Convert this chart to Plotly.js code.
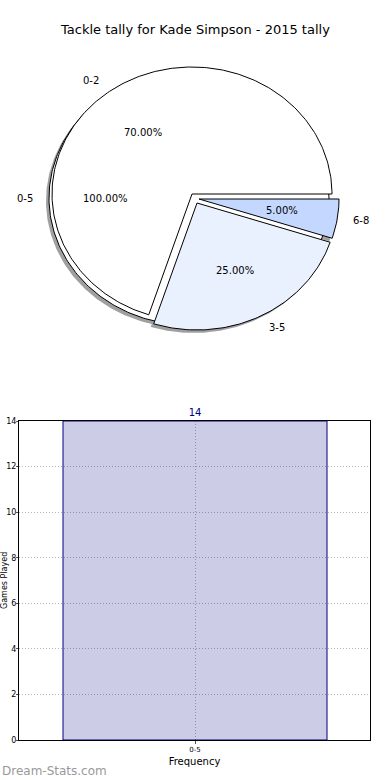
<!DOCTYPE html>
<html>
<head>
<meta charset="utf-8">
<script src="https://cdn.plot.ly/plotly-3.0.1.min.js"></script>
<style>html,body{margin:0;padding:0;background:#fff;}#chart{width:390px;height:780px;}</style>
</head>
<body>
<div id="chart"></div>
<script>
// ---- data ----
const chartTitle = 'Tackle tally for Kade Simpson - 2015 tally';
const innerLabels = ['0-2', '3-5', '6-8'];
const innerValues = [70, 25, 5];
const outerLabels = ['0-5'];
const outerValues = [100];
const barCategories = ['0-5'];
const barValues = [14];
const yTickValues = [0, 2, 4, 6, 8, 10, 12, 14];

// ---- styles / geometry ----
const W = 390, H = 780;
const RX = 140, RY = 127;           // px per unit radius
const pieCx = 192, pieCy = 194;     // px centre of the pie
const pieTop = 40, pieBottom = 360; // px extent of the pie axes
const innerColors = ['#ffffff', '#eaf1fe', '#c4d8ff'];
const innerOffsets = [[0, 0], [5 / RX, -9 / RY], [7 / RX, -5 / RY]]; // explode (unit coords)
const outerOffset = [-3 / RX, -4 / RY];
const shadowOffset = [-3 / RX, -3 / RY];
const shadowColor = '#a0a0a0';
const FONT = 'DejaVu Sans, sans-serif';

function wedge(cx, cy, a0, a1) {
  const xs = [], ys = [];
  const full = (a1 - a0) >= 359.999;
  if (!full) { xs.push(cx); ys.push(cy); }
  const n = Math.max(2, Math.ceil(a1 - a0));
  for (let i = 0; i <= n; i++) {
    const a = (a0 + (a1 - a0) * i / n) * Math.PI / 180;
    xs.push(cx + Math.cos(a)); ys.push(cy + Math.sin(a));
  }
  if (!full) { xs.push(cx); ys.push(cy); }
  return {x: xs, y: ys};
}

function angles(values) {
  const tot = values.reduce((a, b) => a + b, 0);
  let acc = 0;
  return values.map(v => { const a0 = acc / tot * 360; acc += v; return [a0, acc / tot * 360, v / tot * 100]; });
}

const traces = [];
const annotations = [];
function poly(p, fill, lineColor, lw) {
  traces.push({type: 'scatter', mode: 'lines', x: p.x, y: p.y, xaxis: 'x2', yaxis: 'y2',
    fill: 'toself', fillcolor: fill, line: {color: lineColor, width: lw}, hoverinfo: 'skip', showlegend: false});
}
function addLabels(cx, cy, a0, a1, label, pct) {
  const mid = (a0 + a1) / 2 * Math.PI / 180;
  const lx = cx + 1.1 * Math.cos(mid), ly = cy + 1.1 * Math.sin(mid);
  annotations.push({xref: 'x2', yref: 'y2', x: lx, y: ly, text: label, showarrow: false,
    xanchor: lx < cx - 1e-9 ? 'right' : 'left', yanchor: 'middle', font: {family: FONT, size: 10, color: '#000'}});
  annotations.push({xref: 'x2', yref: 'y2', x: cx + 0.6 * Math.cos(mid), y: cy + 0.6 * Math.sin(mid),
    text: pct.toFixed(2) + '%', showarrow: false, xanchor: 'center', yanchor: 'middle',
    font: {family: FONT, size: 10, color: '#000'}});
}

const outerAng = angles(outerValues);
const innerAng = angles(innerValues);
// inner pie shadows (mostly hidden under the outer pie)
innerAng.forEach(([a0, a1], i) => {
  const o = innerOffsets[i];
  poly(wedge(o[0] + shadowOffset[0], o[1] + shadowOffset[1], a0, a1), shadowColor, 'rgba(0,0,0,0)', 0);
});
// outer pie (0-5) with shadow
outerAng.forEach(([a0, a1]) => {
  poly(wedge(outerOffset[0] + shadowOffset[0], outerOffset[1] + shadowOffset[1], a0, a1), shadowColor, 'rgba(0,0,0,0)', 0);
  poly(wedge(outerOffset[0], outerOffset[1], a0, a1), '#ffffff', '#000', 1);
});
// inner pie wedges
innerAng.forEach(([a0, a1], i) => {
  const o = innerOffsets[i];
  poly(wedge(o[0], o[1], a0, a1), innerColors[i], '#000', 1);
});
outerAng.forEach(([a0, a1, p], i) => addLabels(outerOffset[0], outerOffset[1], a0, a1, outerLabels[i], p));
innerAng.forEach(([a0, a1, p], i) => addLabels(innerOffsets[i][0], innerOffsets[i][1], a0, a1, innerLabels[i], p));

// bar chart
traces.push({type: 'bar', x: barCategories, y: barValues, width: 0.8, xaxis: 'x', yaxis: 'y',
  marker: {color: 'rgba(0,0,128,0.2)', line: {color: '#000080', width: 1}},
  text: barValues.map(String), textposition: 'outside', cliponaxis: false,
  textfont: {family: FONT, size: 10, color: '#000080'}, hoverinfo: 'skip', showlegend: false});

// pie axes ranges from pixel geometry
const px0 = [-pieCx / RX, (W - pieCx) / RX];
const py0 = [-(pieBottom - pieCy) / RY, (pieCy - pieTop) / RY];

const barLeft = 19, barRight = 370, barTop = 421, barBottom = 740;
const barPx = 264, barCenterPx = 195;
const xr = [-0.8 * (barCenterPx - barLeft) / barPx, 0.8 * (barRight - barCenterPx) / barPx];

annotations.push({xref: 'paper', yref: 'paper', x: 0.5, y: 1 - 30 / H, text: chartTitle, showarrow: false,
  xanchor: 'center', yanchor: 'middle', font: {family: FONT, size: 13, color: '#000'}});
annotations.push({xref: 'paper', yref: 'paper', x: 4 / W, y: 1 - 581 / H, text: 'Games Played', showarrow: false,
  textangle: -90, xanchor: 'center', yanchor: 'middle', font: {family: FONT, size: 8, color: '#000'}});
annotations.push({xref: 'paper', yref: 'paper', x: 0, y: 1 - 771 / H, text: 'Dream-Stats.com', showarrow: false,
  xanchor: 'left', yanchor: 'middle', font: {family: FONT, size: 12, color: '#999999'}});

const gridStyle = {showgrid: true, gridcolor: '#b4b4b4', griddash: '1px,2px', gridwidth: 1, zeroline: false};
const layout = {
  width: W, height: H, margin: {l: 0, r: 0, t: 0, b: 0}, paper_bgcolor: '#fff', plot_bgcolor: 'rgba(0,0,0,0)',
  showlegend: false,
  xaxis2: {domain: [0, 1], range: px0, visible: false, fixedrange: true, anchor: 'y2'},
  yaxis2: {domain: [1 - pieBottom / H, 1 - pieTop / H], range: py0, visible: false, fixedrange: true, anchor: 'x2'},
  xaxis: Object.assign({domain: [barLeft / W, barRight / W], range: xr, type: 'category', anchor: 'y',
    showline: true, linecolor: '#000', linewidth: 1, mirror: true,
    ticks: 'outside', ticklen: 3, tickcolor: '#555',
    tickfont: {family: FONT, size: 7, color: '#000'},
    title: {text: 'Frequency', font: {family: FONT, size: 10, color: '#000'}, standoff: 4}}, gridStyle),
  yaxis: Object.assign({domain: [1 - barBottom / H, 1 - barTop / H], range: [0, 14], anchor: 'x',
    tickvals: yTickValues, ticktext: yTickValues.map(String),
    showline: true, linecolor: '#000', linewidth: 1, mirror: true,
    ticks: 'outside', ticklen: 2, tickcolor: '#555', ticklabelstandoff: -2,
    tickfont: {family: FONT, size: 8, color: '#000'}}, gridStyle),
  annotations: annotations
};

Plotly.newPlot('chart', traces, layout, {displayModeBar: false, staticPlot: true});
</script>
</body>
</html>
